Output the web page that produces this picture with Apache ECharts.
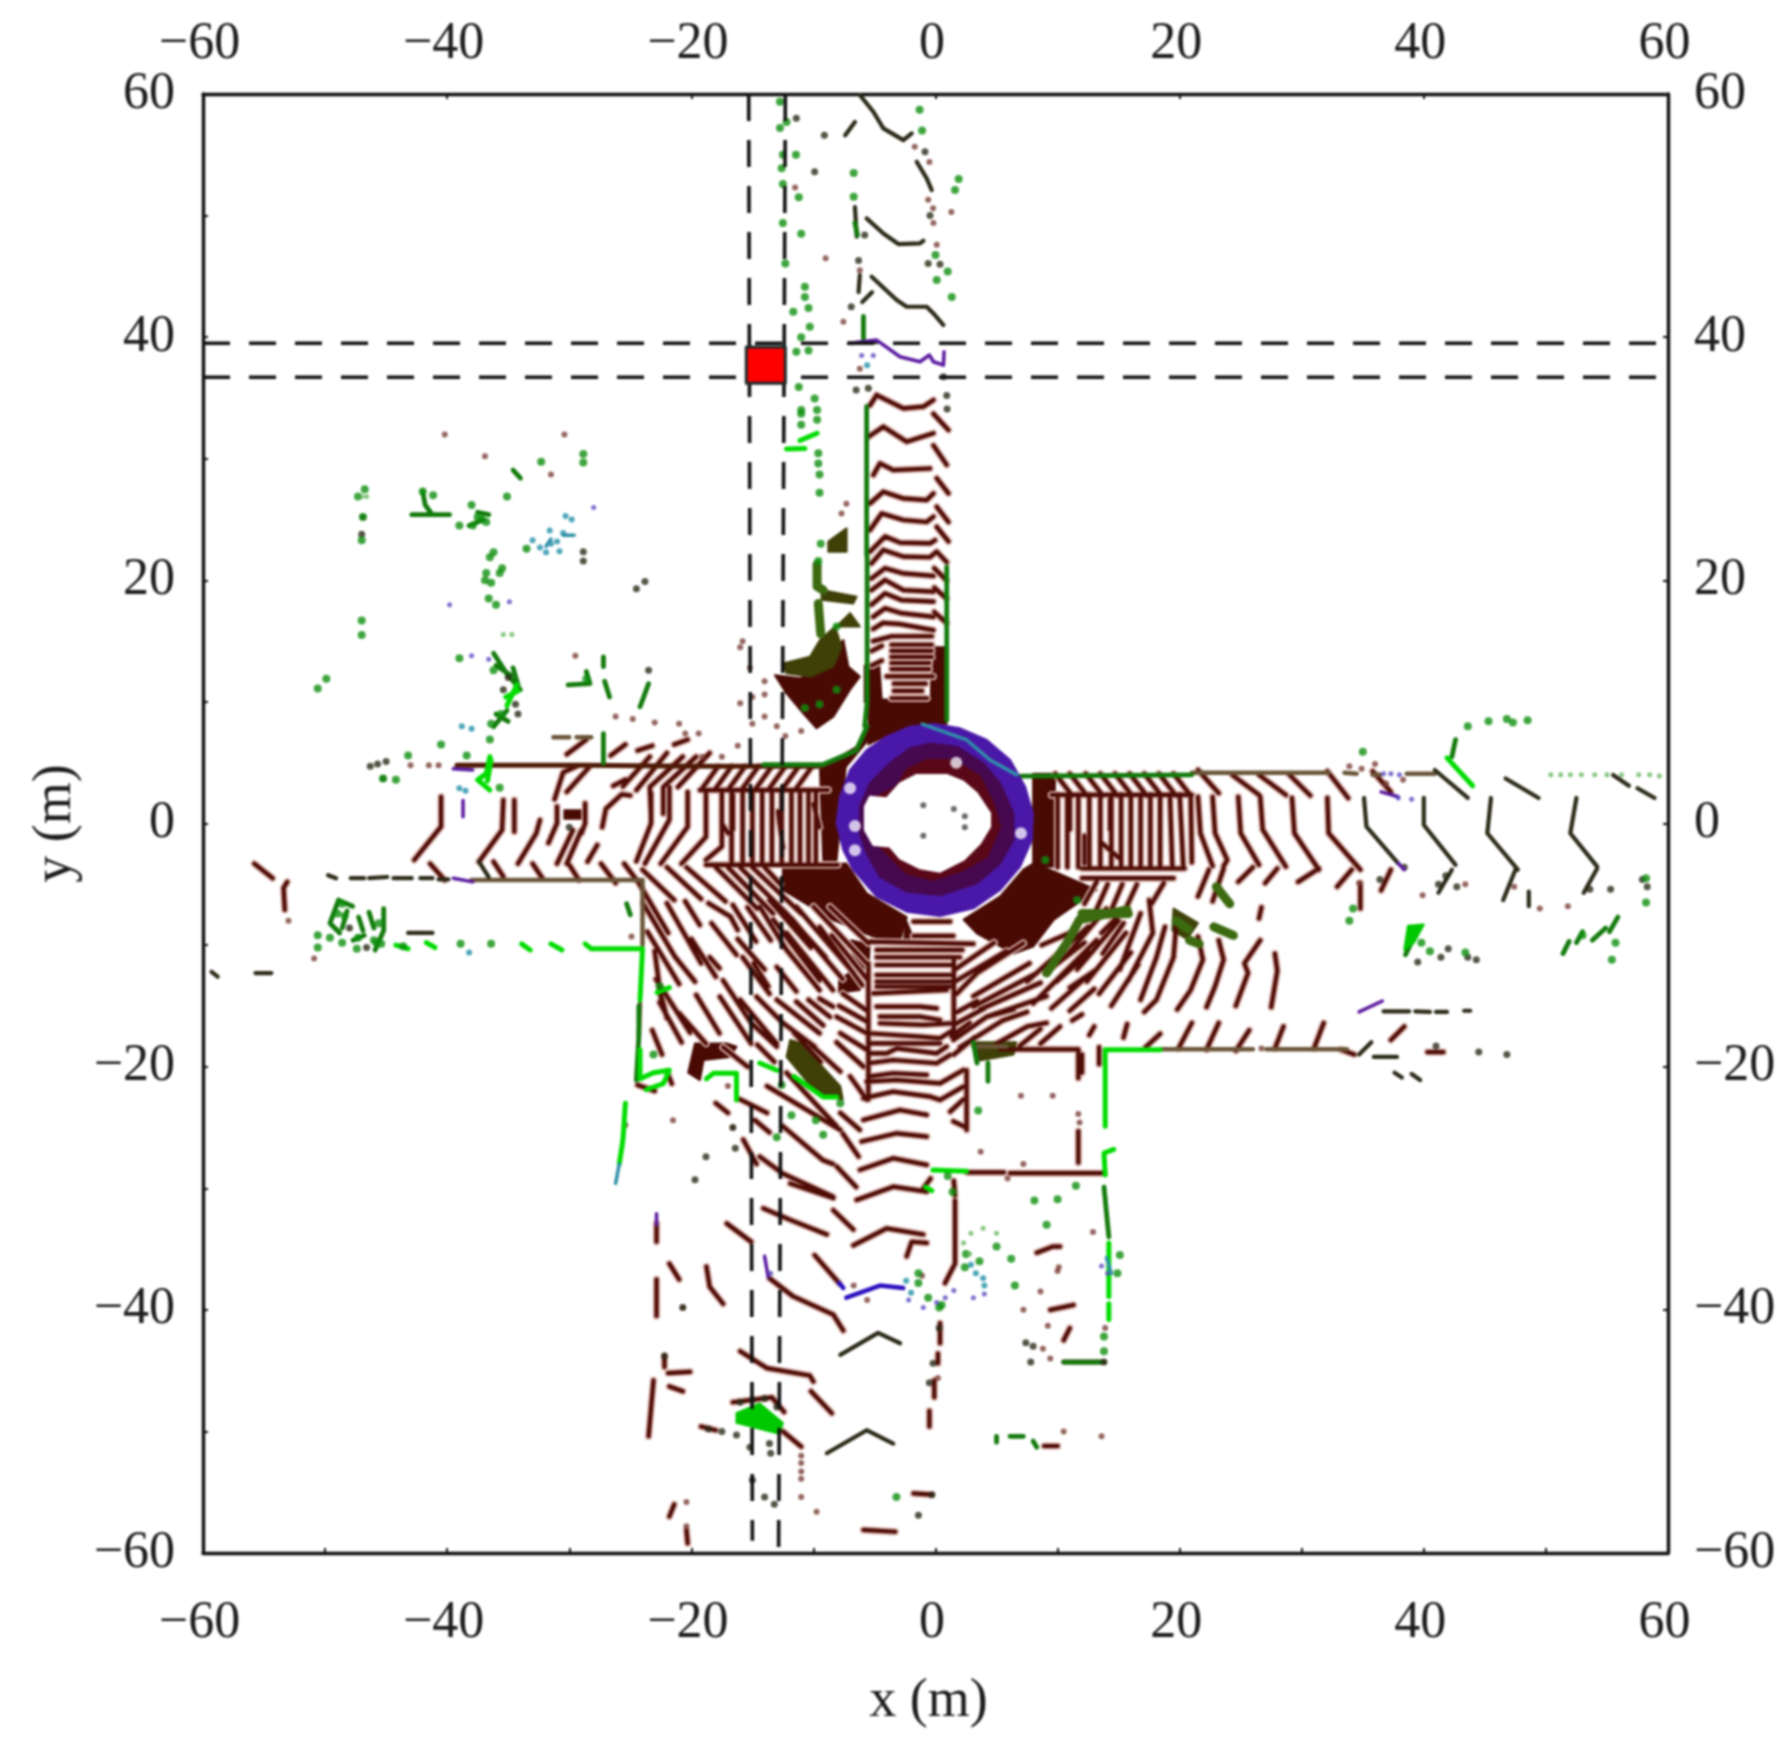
<!DOCTYPE html>
<html><head><meta charset="utf-8">
<style>html,body{margin:0;padding:0;background:#fff}#c{width:1784px;height:1752px;filter:blur(.8px)}</style>
<script src="https://cdn.jsdelivr.net/npm/echarts@6/dist/echarts.min.js"></script>
</head><body><div id="c"></div>
<script>
const xTicks=[-60,-40,-20,0,20,40,60];
const xLabel='x (m)', yLabel='y (m)';

// Scan lines, walls and clutter: flat x,y,x,y lists in metres.
const brownLines=[
// top arm
[-4.82,35.24,-2.63,34.14,-1,34.28,-.17,34.83],[-5.36,34.4,-4.82,35.24],[-.17,33.7,1.06,32.36],
[-5.5,31.8,-4.27,32.64,-2.36,31.4,-.17,32.1],[-.17,31.1,.92,29.5],
[-5.09,28.66,-4.55,29.62,-3.45,29.07,-.45,29.2],[.1,28.4,1.06,27.15],
[-5.36,26.33,-4.27,27.29,-2.63,26.74,-.72,26.6,-.17,27.15],[.1,26.06,1.06,24.8],
[-5.36,24.14,-4.41,25.5,-2.63,24.96,-.72,24.8,-.17,25.24],[.1,24.4,1.06,23.2],
[-5.36,22.36,-4.13,23.6,-2.9,23.1,-.45,23.04,-.04,23.3],
[-5.23,21.4,-4.27,22.5,-2.63,21.95,-.45,21.9,.1,22.36,.92,21.5],
[-5.23,20.16,-4.13,21,-2.63,20.57,-.17,20.36],[-5.23,19.2,-4.13,20.03,-2.63,19.2,-.17,19.07],
[-5.23,18,-4.13,18.93,-2.8,18.38,-.17,18.25],[-5.1,17,-4.13,17.7,-2.8,17.3,-.17,17],
[-5.1,16,-4.3,16.5,-2.9,16.4,-.17,15.9],[-5.1,15,-3.6,15.4,-.3,15.4],[-3.6,14.7,-.3,14.7],[-3.6,14.2,-.3,14.2],
[-3.6,13.7,-.3,13.7],[-3.6,13.2,-.5,13.2],[-3.6,12.7,-.5,12.7],[-4,12.1,-.2,12.1],[-3.4,11.5,-.8,11.5],[-3.4,10.9,-1.1,10.9],[-3.6,10.3,-.7,10.3],[-5.2,14.2,-4.4,14.6],[-5.2,13,-4.4,13.4],
[.9,20,-.1,21],[.9,18.5,-.1,19.4],[.9,16.5,-.1,17.4],
// bottom arm
[-1.8,-8.07,1.2,-8.07],[-1.8,-9.25,1.46,-9.25],[-5.37,-9.72,3.1,-9.9],[-4.82,-10.4,2.2,-10.4],[-4.82,-11.64,1.46,-11.64],[-4.82,-12.46,1.46,-12.46],[-4.82,-13,1.46,-13],[-4.82,-13.42,1.2,-13.42],[-4.82,-11,2,-11],
[-5.09,-13.97,.92,-13.69],[-4.82,-15.06,-1.27,-15.06,.1,-15.2],[-4.55,-15.88,-1.27,-15.88,.37,-16.16],[-4.55,-16.43,-1,-16.57,1.46,-16.43],
[-5.5,-17.25,-1.27,-17.53,.37,-17.67,1.46,-16.98],[-5.5,-18.08,.37,-18.08],[-5.5,-18.9,-4,-18.9,-3.18,-18.49,.1,-18.9,.92,-18.35],
[-5.5,-19.72,-3.46,-19.45,.1,-19.72,1.19,-19.04],[-5.5,-20.82,-3.46,-20.54,-.72,-20.68],[-5.64,-21.23,-3.18,-21.09,.37,-21.37,2.28,-20.27],
[-5.91,-22.6,-3.46,-22.05,-.45,-22.46,.37,-22.74,2.28,-21.64],[-5.91,-24.38,-2.91,-23.56,-.72,-23.97],[-6.05,-26.16,-3.18,-25.48,-.72,-25.75],
[-6.19,-28.49,-3.46,-27.53,-.72,-28.08],[-6.46,-30.96,-3.46,-29.87,-.72,-30.28],[1.2,-23.7,2.28,-22.7],[1.46,-24.5,2.5,-25],[2.55,-20.3,2.55,-25.2],
[-5.5,-11.5,-5.5,-22.7],[1.5,-11,1.5,-17],[1.3,-17.5,2.8,-16.4],[1.5,-19,3.2,-17.6],
// lower-left diagonals
[-23.95,-6.56,-21.35,-10.95,-19.7,-13],[-22,-6.56,-19.2,-11.5],[-20.5,-6.4,-19.3,-8.35],[-18.6,-6.56,-16.8,-7.66,-16.2,-8.76],[-18.35,-8.2,-16.3,-10.8],[-18.5,-11,-17.7,-11.9],
[-19.6,-14.1,-17.7,-17.25],[-21,-15.6,-18.8,-18.1],[-17.4,-12.9,-15.1,-16.4,-13,-18.35],[-17.66,-14.25,-15.1,-18.1],[-16,-14.5,-13,-18.1],[-14.66,-14.25,-12.5,-16.4,-9.9,-18.35],
[-13,-14.5,-9.5,-17.25],[-11.4,-14.65,-9.2,-16.6],[-10.4,-14.5,-8.65,-15.9],[-9.5,-14.4,-8.4,-15.06],[-14.9,-11.5,-13.7,-13.4],[-14.4,-6.84,-12.2,-10.4,-9.5,-13.7],
[-13.3,-7.9,-9.5,-12.9],[-12.2,-9,-8.4,-13.7],[-11.4,-6.84,-6.7,-12.3],[-10,-6.84,-5.64,-11.5],[-8.65,-6.84,-5.5,-9.85],[-15.4,-6.9,-13.5,-9.6],[-16.6,-6.7,-14.7,-9.7],
[-8.1,-15.9,-5.64,-17.25],[-7.8,-17.25,-5.64,-18.6],[-8.1,-18,-5.9,-20],[-7,-20.8,-5.64,-22.7],[-7.8,-23.8,-6.2,-25.2],[-16,-22.7,-13.8,-23.8],
[-12.5,-24.9,-9.2,-27.7,-8.4,-28],[-14.4,-27.4,-12.5,-28.8,-8.4,-30.7],[-8.1,-28.2,-6.5,-29.9],[-12.2,-20.5,-8.1,-24.9],[-13.8,-21.6,-7.8,-25.2],[-7.6,-25.5,-6.3,-27.4],[-15.75,-26,-14.66,-28],
[-24.3,-4.9,-21.9,-9],[-23.6,-8.9,-21,-13.2],[-22.9,-12.8,-20.1,-17.2],[-22.6,-14.7,-20.8,-18],
[-18,-3.6,-14.6,-7],[-17,-3.6,-13.3,-7.4],[-16,-3.6,-12,-7.6],[-15,-3.6,-11,-7.4],[-14,-3.6,-12.7,-5],[-20.4,-3.6,-17.2,-6.4],[-22,-3.6,-19.2,-6.2],[-24,-3.8,-21.4,-6.3],
[-13.6,-6.3,-10.2,-10.2],[-12.6,-7,-9,-11],[-11.8,-7.8,-7.6,-12.8],[-9.5,-8.5,-6,-13.3],[-8.5,-9.2,-5.6,-12.8],[-15.8,-11,-13.6,-14],[-13,-11.8,-11.4,-13.8],[-20,-9.5,-18,-12.6],[-16.2,-9.5,-14,-12],
[-7.6,-14,-5.6,-15.4],[-7.9,-15,-5.6,-16.3],[-17.4,-18.4,-15.4,-20],[-14.6,-18.2,-13.2,-19.6],[-11.6,-17.2,-9.4,-19.6],[-10.2,-18.2,-7.8,-20.4],[-18,-23,-17,-23.8],[-14.8,-24.4,-13.6,-25.4],
// left arm
[-40.5,2.2,-40.5,-.26,-42.7,-3],[-53.1,-4.8,-53.4,-5.3,-53.3,-7.1],[-35.4,1.93,-35.5,-.54,-37.4,-3.14],[-34.5,1.93,-34.5,-.67],[-32.4,.29,-32.7,-.8,-34.2,-3.3],[-31,1.4,-31,.03,-31.7,-1.6],
[-29.7,-.54,-31,-3.3],[-29,-.54,-30.2,-3.3],[-28.7,1.66,-28.7,.01,-29,-.8],[-27.7,-1.77,-28.5,-3.14],[-41.4,-3.3,-40.2,-4.65],[-36.2,-3.14,-35.4,-4.37],[-33,-3.3,-32.2,-4.5],[-30,-3.4,-29.2,-4.65],[-27.4,-3.3,-26.2,-4.9],[-25.5,-3.3,-24.3,-4.9],
[-23.3,2.5,-23.3,0,-24.5,-3.1],[-21.8,3,-21.8,.3,-23.8,-3.3],[-20.3,2.6,-20.3,-.26,-22.5,-3.3],[-18.8,2.6,-18.8,-1.1,-20.8,-3.3],[-17.5,2.5,-17.5,-1.9,-18.8,-3],
[-18.8,-3.4,-8,-3.4],[-16.7,2.6,-16.7,-3.2],[-15.8,2.6,-15.8,-3.2],[-15,2.6,-15,-3.2],[-14.2,2.6,-14.2,-3.2],[-13.4,2.6,-13.4,-3.2],[-12.6,2.6,-12.6,-3.2],[-11.8,2.6,-11.8,-3.2],[-11.1,2.6,-11.1,-3.2],[-10.4,2.6,-10.4,-3.2],[-9.8,2.6,-9.8,-3.2],
[-19.3,2.75,-8.8,2.75],[-19.2,2.75,-17.8,4.7],[-18.1,2.75,-16.7,4.7],[-17,2.75,-15.6,4.7],[-15.9,2.75,-14.5,4.7],[-14.8,2.75,-13.4,4.7],[-13.7,2.75,-12.3,4.7],[-12.6,2.75,-11.2,4.7],[-11.5,2.75,-10.1,4.7],
[-25.6,3.05,-23.4,5.5],[-24.5,2.75,-22,5.8],[-23.3,.8,-23.4,3,-20.7,5.5],[-22.3,.8,-22.3,3,-19.6,5.5],[-21.1,3,-18.5,5.8],[-31.2,2,-30.5,4.2,-29.4,4.7],[-30.2,2.6,-28.4,4.6],
[-27.3,-.3,-27,1.2,-25.7,2.4,-25,2.3],[-26.4,3.1,-25.4,3.6],[-26.6,5.6,-25.4,6.5],[-24.4,6,-23.2,6.4],[-21.4,6.5,-20.3,6.9],[-30.2,5.7,-28.6,6.9],
[-16.6,2.4,-16.6,-.5],[-12.9,1,-12.5,-2],[-10,1.6,-9.5,-.3],[-17.5,0,-17,-.8],
// right arm
[21.5,2.2,21.7,-.8,22.7,-3.5],[22.7,2.2,22.9,-.8,23.9,-3,23.6,-3.5],[24.8,2.2,25,-.8,26.5,-3.4],[26.6,2.2,26.8,-.5,28.7,-3.55],[29.2,2.1,29.4,-.8,31.4,-3.8],[32.1,2.1,32.2,-.8,34.8,-3.8],
[21.5,4.4,23.2,2.5],[24.3,4,26.5,2.35],[26.5,4,28.7,2.35],[29,4,30.7,2.3],[32.1,4.3,33.8,2.1],[35.8,4.3,37.3,2.6],
[22.4,-3.8,21.5,-6],[28,-3.7,27,-4.9],[31.4,-3.7,29.7,-4.8],[34.1,-3.8,32.9,-5.2],[37.3,-3.8,36.5,-5.5],[34.8,-4.9,34.8,-7],
[10,2.4,10,-3.6],[10.8,2.4,10.8,-3.6],[11.7,2.4,11.7,-3.6],[12.6,2.4,12.6,-3.6],[13.5,2.4,13.5,-3.6],[14.4,2.4,14.4,-3.6],[15.2,2.4,15.2,-3.6],[16,2.4,16,-3.6],[16.8,2.4,16.8,-3.6],[17.6,2.4,17.6,-3.6],[18.4,2.4,18.4,-3.6],[19.2,2.4,19.4,-3.6],[20,2.4,20.3,-3.6],[20.9,2.4,21,-3.2],
[9.5,2.35,21,2.35],[12,-3.7,20.4,-3.7],[12,-4.5,19.5,-4.5],[9.8,4.1,11.2,2.3],[11,4.1,12.4,2.3],[12.3,4.1,13.7,2.3],[13.5,4.1,14.9,2.3],[14.7,4.1,16.1,2.3],[15.9,4.1,17.3,2.3],[17.1,4.1,18.5,2.3],[18.3,4.1,19.7,2.3],[19.5,4.1,20.9,2.3],
[26.6,-9.6,25.3,-11.5,25.6,-12.3,24.6,-15],[23.2,-9.6,23.6,-11.2,22.9,-13.4,22.2,-15.1],[21.5,-9.3,21.9,-11.2,20.9,-13.7,19.8,-15.3],[19.7,-8.5,19.5,-11,18.1,-14.5,17.1,-15.5],[18.8,-8.5,18.1,-11,16.8,-14.5],[17.5,-6.3,17.8,-9,15.8,-12.9],[16.8,-7.4,15.1,-12],[15.4,-8.2,13.7,-10.7],[27.8,-10.7,28,-12.1,27.5,-15.1],[14.1,-5,13,-7.5],[15.3,-5,14.2,-7.6],[16.5,-5,15.4,-7.4],[18.7,-4.9,17.7,-6.6],
[23.6,-3.7,22.7,-6.4],[26,-3.6,24.8,-4.8],[26.7,-6.9,26.5,-7.8],[11,2,11,-.5],[12.2,-1,12.2,-3.3],[14.3,2,14.3,-.5],[13.5,-1.5,15,-2.8],
// lower-right diagonals
[1.74,-14,3.4,-12.3,7.2,-9.85],[3.1,-14.2,7.7,-11.5],[3.1,-15.06,8.3,-12.3],[3.65,-15.3,8.6,-13.1],[4.2,-15.9,9.1,-14.2],[1.46,-17.8,4.2,-15.9,6.4,-15.3],[2,-18.4,5.5,-16.2,7.5,-15.5],[5,-18.1,7.5,-16.7,9.1,-16.4],[8.6,-18.1,10.2,-16.7],[6.9,-18.3,8.6,-16.9],[11.2,-16.2,12,-15.7],[13,-16.7,12.6,-17.4],
[8.7,-10,11,-9],[9.6,-11.8,12.2,-9.8],[9.9,-13,12.6,-10.6],[11,-13.5,13.2,-12],[10.6,-11,14,-7],[11.6,-12,15,-8],[12.4,-13,15.6,-9],[13.4,-14,16,-10.6],[14.4,-15,16.6,-11.6],[7.5,-13,12.5,-8.5],[8,-14.8,13.2,-9.6],[9.5,-15.2,12.5,-12.5],[11,-15.4,13,-13.6],[1.6,-12,4.8,-9.8],[1.6,-13,5.8,-10.5],[1.8,-15.5,3.4,-14.6],[1.6,-16.5,4,-15.2],[13.2,-4.8,12.2,-6.6],[14.8,-7.8,13.6,-9],
[21,-16.4,19.9,-18.5],[23.2,-16.4,22.2,-18.6],[25.7,-17,24.6,-18.7],[28.5,-16.7,27.8,-18.5],[31.8,-16.4,31,-18.5],[15.7,-16.5,15.4,-17.6],[18.4,-17.3,17.2,-18.4],
[5.29,-18.57,11.7,-18.57,11.7,-20.95],[11.7,-25.3,11.7,-27.9],[12,-19,12,-20.5],[13.4,-18.4,13.4,-19.8],[6.1,-28.76,13.8,-28.76],[2.6,-28.7,5.6,-28.7],[33.2,-18.6,34.3,-19],[40.3,-18.8,41.6,-18.8],[37.3,-17.8,38.4,-16.7],
// lower scan lines
[-11.9,-29.6,-8.37,-30.8],[-8.37,-31.8,-6.73,-33.4],[-14.1,-31.65,-11.9,-32.6,-8.9,-33.8],[-17.1,-32.9,-15.1,-34.4],[-6.73,-34.7,-4,-33.3,-1,-33.8],[-2.36,-35.6,-1.95,-34.4,-.72,-34.5],[-9.9,-35.5,-7.9,-37.8],
[-13.6,-37.4,-11.65,-38.9,-8.37,-40.4,-7.55,-41.7],[-18.76,-36.45,-18.5,-38.1,-17.4,-39.5],[-22.85,-32.9,-22.85,-34.4],[-22.85,-37.5,-22.85,-40.5],[-21.8,-36.2,-21,-37.5],[1.6,-31,1.6,-36.2,.78,-37.8],
[.37,-41.1,.37,-42.75],[.2,-43.6,.2,-44.4],[-.1,-45.8,-.1,-47.2],[-.5,-48.3,-.5,-49.6],[-23.1,-45.8,-23.5,-50.4],[-21.9,-45.2,-20.1,-45.1],[-21.8,-46.3,-20.7,-46.7],[-22.2,-43.8,-22.2,-44.7],
[-16,-43.4,-13.8,-44.8,-10.3,-45.4,-10,-45.9],[-10.2,-46.7,-8.5,-48.5],[-12.5,-50,-11,-51.25],[-21.8,-57,-21.4,-56],[-20.4,-58.1,-20.3,-59.2],[-5.9,-58.1,-3.3,-58.25],[-19.2,-49.6,-18,-49.9],
[-23,-10.5,-22.4,-15],[-22.5,-14,-22,-16],[-23.2,-17,-22.4,-19],[-24.4,-21.5,-23,-22],[-22,-20.4,-21.6,-21.4],[-16.6,-47.6,-13.4,-47.2,-12.4,-48.4],[-1,-30,-.4,-29.2],[1.5,-29.4,1.6,-30.6],
[8.3,-35.3,9.6,-34.8,10.2,-34.8],[9.4,-40,11.3,-39.6],[10.5,-42.5,11,-41.5],[-1.8,-55.1,-.3,-55.2],[8.9,-51.2,10,-51.2],[-55.8,-3.3,-54.3,-4.5]
];
const darkLines=[
[-6.18,59.9,-5.09,58.54,-4.27,57.17,-2.63,56.21,-1.95,56.76],[-1.54,54.43,-.72,53.06,-.31,52.1],[-5.64,49.77,-4.27,48.53,-3.04,47.66,-1.27,47.71,-.99,47.93],
[-5.23,44.97,-3.18,43.05,-2.36,42.5,-.72,42.5,-.17,41.95,.65,41],[-7.4,56.6,-6.6,57.7],[-6.6,50.7,-6.45,48.26],[-6.2,45.1,-6.3,43.7],[-6,42.9,-5.2,43.7],[-7,39.5,-4.82,39.6],
[35.1,2.1,35.3,-.26,37.9,-3.27],[40,2.1,40,-.12,42.6,-3.4],[45.5,2.1,45.2,-.8,47.7,-3.8],[52.5,2.1,52,-.8,54.2,-3.55],[40.9,4.4,43.6,2.1],[46.7,3.7,49.4,2.1],[55.5,3.99,56.8,3.1],[57.5,2.9,58.9,2.1],
[42.3,-3.8,41.2,-5.7],[47.5,-3.8,46.5,-6.3],[54.2,-3.7,53.1,-5.7],[48.6,-5.6,48.6,-6.8],[35.9,-19.2,37.8,-19.2],[34.7,-19,35.7,-18],
[-7.8,-43.7,-4.7,-41.9,-2.9,-42.75],[-8.9,-51.8,-5.64,-49.9,-3.46,-51],[-42.2,-4.5,-41.2,-4.5],[-40.7,-4.6,-39.9,-4.6],[-47.9,-4.5,-46.8,-4.5],[-46.4,-4.5,-44.9,-4.4],[-44.4,-4.5,-42.9,-4.5],[-49.75,-4.25,-49.1,-4.5],
[-59.3,-12.2,-58.8,-12.6],[-55.7,-12.3,-54.4,-12.3],[-43.2,-9,-41.2,-9],[-37.4,-3.14,-36.6,-4.4],[37.6,-20.5,38.2,-20.9],[39,-20.6,39.7,-21.1],[36.7,-15.45,38.8,-15.45],[39.3,-15.45,40.5,-15.5],[41,-15.5,41.9,-15.5],[43.3,-15.4,43.8,-15.4]
];
const oliveLines=[
[-38,-4.65,-24,-4.65,-24,-10],[-24.2,-14.8,-24.3,-17.5],[18.4,-18.57,26,-18.57],[27.1,-18.57,33.7,-18.57],[21,4.18,32.2,4.18],[33.5,4.18,34.5,4.1],[35.8,4,36.4,4],[38.6,4.1,40.9,4.1],[-31.3,7.1,-30,7.1],[-29.4,7.1,-28.2,7.1],[5.8,-18.35,3.1,-18.35]
];
const wallLines=[[-39.2,4.8,-28.6,4.8],[-28.6,4.8,-20,4.7],[-20,4.7,-9.2,4.7],[10.5,-44.3,13.8,-44.3]];
const darkGreenLines=[
[-14.1,4.85,-9.2,4.85,-6.5,6,-5.6,8],[7,3.9,21,4],[-5.64,34.3,-5.64,22],[-5.6,22,-5.6,10,-5.8,8],[.92,21.1,.92,8.5],[-27.2,7.4,-27.2,4.95],[-30.1,11.4,-28.3,11.5,-28.6,12.5],[-27.2,13.7,-27.2,12.9],[-27.1,11.7,-26.7,10.4],[-23.5,11.5,-24.2,9.6],[-6.6,49.4,-6.4,48.4],[-5.9,41.7,-5.9,39.9],
[39.6,-8.5,38.5,-10.8],[51.4,-10.7,51.9,-9.7],[52.5,-9.8,53,-8.9],[53.8,-9.6,54.9,-8.6],[55.2,-8.9,55.9,-7.7],[-42.9,25.4,-39.8,25.4],[-42,27.3,-41.8,26.2,-41.3,25.5],[-34.6,29.07,-34,28.4],
[-36.2,14,-35.1,12.3,-34,11],[-34.6,12.8,-34.2,11.4],[-36,13,-34.8,12.2],[-35.1,9.3,-36.2,7.96],[-36,9,-35,8.4],[-48.9,-6.3,-49.6,-8.2,-48.8,-9],[-48.9,-6.3,-47.75,-6.8],[-45.2,-7,-45.2,-8.8,-45.9,-10.4],[-47.25,-7.7,-46.9,-8.8],[-25.3,-6.6,-25,-7.5],
[-48.2,-7.2,-48.6,-8.6],[-46.4,-7.3,-46,-8.6],[-47.7,-9.6,-46.8,-9.2],
[-24.3,-15,-24.3,-17.5,-24.5,-21.1],[5,-50.4,5,-50.9],[6.1,-50.4,7.2,-50.4],[8,-50.8,8.3,-51.3],[3.1,-18,3.4,-19.7],[4.3,-19.7,4.3,-21.2],[42.3,5.5,42.6,6.9],
[13.8,-29.9,14.2,-34],[10.5,-44.3,13.8,-44.3],[-37.5,25.6,-36.6,25.4],[-38.2,24.5,-37,25]
];
const brightGreenLines=[
[-28.7,-9.9,-28.2,-10.3,-24,-10.3,-24.2,-14.5],[-18.76,-21,-18.2,-20.55,-16.3,-20.55,-16.3,-22.74],[13.9,-24.9,13.9,-18.6,18.4,-18.6],[13.9,-28.9,13.8,-27.1,14.6,-26.8],[14.2,-34.5,14.2,-38.9],[14.2,-39.5,14.2,-40.8],
[-44.2,-10,-43.2,-10.3],[-41.7,-9.8,-41,-10.2],[-33.9,-9.9,-33.2,-10.4],[-31.5,-9.9,-30.6,-10.4],[-24.2,-18.6,-24.2,-21,-23.1,-20.5,-21.8,-20.3,-22.3,-21.4,-23.7,-21.9],[-22.8,-13.9,-21.8,-13.5],
[-25.4,-23,-25.6,-26,-25.9,-28],[-36.5,5.5,-36.8,4.1,-37.5,3.6,-36.5,2.75],[-36.4,5.2,-36.7,3.5],[-34.3,11.4,-35.1,9.7],[-35.2,10.4,-34.2,10.9],[-14.4,-19.7,-13,-20.3],[-11.6,-20.8,-9.2,-22.5,-8.1,-22.5],[-.2,-28.5,2.55,-28.6],[-.8,-29.9,-.3,-30.2],
[41.9,5.4,44,3.1],[-12.2,30.8,-10.7,30.85],[-11.1,31.5,-9.7,32.1],[-14.6,-48.6,-13,-49.4]
];
const purpleLines=[[-7,39.5,-4.82,39.76,-2.91,38.39,-1.27,37.98,-.5,38.53,-.17,37.98,.65,37.7,.7,38.8],[-38.7,1.9,-38.7,.56],[-39.5,4.5,-37.9,4.4],[-39.5,-4.5,-37.9,-4.8],[-22.85,-32.1,-22.85,-33],[-14,-35.6,-13.7,-37.3],[34.7,-15.5,36.6,-14.6],[37.9,-3.27,38.4,-3.8],[36.5,2.6,37.9,2.2]];
const blueLines=[[-7.9,-37.8,-7.55,-38.2],[-7.3,-39,-4.55,-38,-2.64,-38.2]];
const tealLines=[[-1.08,8.18,2.56,6.87,4.47,5.22,6.66,4],[-31.9,22.8,-31.5,23.4],[-30.5,23.7,-29.6,23.7],[-26.2,-29.6,-25.9,-28],[14,-35.7,14.4,-37]];
const oliveGreenBands=[[9.1,-12.3,10.75,-9.85,11.8,-7.9,15.7,-7.1],[12,-7.4,15.8,-7.4],[-9.6,18.1,-9.4,15.6],[-9.7,21.3,-9.7,19.5,-9.2,19.2],[19.7,-8,20.7,-8.7],[22.8,-8.5,24.4,-9.2],[20.8,-9.6,21.6,-9.9],[23,-5.2,24.1,-6.6]];

// filled dense patches
const darkPatches=[
[8,4.1,9.8,4.1,9.66,-3.55,8,-3.55],
[8,-3.3,9.4,-3.82,13.2,-5.47,9.66,-7.94,8,-10.13,6.4,-10.7,3.38,-9.03,2.3,-7.9,5.3,-6,7.2,-3.8],
[-7.3,-3.3,-12.5,-3.55,-12.5,-5.47,-8.37,-7.94,-5.1,-9.3,-2.9,-9.6,-2.36,-7.7,-5.64,-5.74],
[-9.46,4.4,-7.3,5.2,-8.1,-3,-9.2,-3],
[-9.2,4.7,-6.46,6.3,-5.4,8,-5.4,10.2,-4,10.2,-4.5,8.2,-5.9,6.4,-7.8,4.1],
[-5.4,10.2,.37,10,.92,8.2,-2,8,-4.5,7,-5.5,6.5],
[-5.8,13,-4.6,13,-4.4,10,-5.8,10],[-.3,14.5,.85,14.5,.9,9,-.4,9.5],
[-13.15,12.2,-11.1,11.94,-9.46,12.63,-8.37,14,-7.55,15.09,-7.14,12.9,-6.2,12.08,-7,11,-8.37,8.79,-9.74,7.83,-10.83,9.06,-12.2,10.7],
[-20.26,-20.5,-19.7,-18.1,-17.1,-18.1,-16.3,-18.35,-16.85,-19.2,-19,-19.45,-19.3,-21.1],
[-6.9,-9.6,-5.4,-10,-5.5,-12.5,-6.6,-12.6],[-2.4,-8,-1.7,-9.7,-2.6,-9.7],[-7.9,-12.9,-6.5,-11.9,-6.2,-13.7,-7.9,-13.9],[-30.4,1.1,-29,1.1,-29,.4,-30.4,.4]
];
const oliveDarkPatches=[
[-12.47,13.17,-10.28,13.72,-9.46,15.09,-8.23,16.19,-7.69,14.54,-8.37,12.9,-10.28,12.08,-12.2,12.35],
[-8.78,23.18,-7.28,24.28,-7.28,22.36,-8.78,22.36],[-9.33,19.2,-6.46,18.66,-6.73,18.1,-9.33,18.4],[-7,17.3,-8.1,16.2,-6.2,16.2],
[-11.9,-17.8,-11,-18.1,-7.8,-21.6,-7.6,-22.7,-9.7,-22.2,-12.2,-19.2],[3.3,-18,6.6,-18,6.4,-19,3.6,-19.5],[19.5,-7,21.5,-8.2,20.6,-9.5,19.4,-8.8]
];
const greenPatches=[[-16.3,-48.5,-14.4,-47.7,-12.5,-49.3,-12.8,-50.2,-16.3,-49.3],[38.7,-8.4,40,-8.3,39.2,-9.8,38.4,-10.4]];
const ringOuter=[-.17,8.18,2.01,7.83,4.2,6.87,6.11,5.22,7.34,3.03,7.97,.84,7.89,-1.36,6.93,-3.55,5.29,-5.47,3.1,-6.98,.37,-7.61,-2.36,-7.25,-4.82,-6.02,-6.73,-3.82,-7.55,-2.18,-8.1,.01,-7.82,2.2,-7,4.4,-5.64,6.04,-4,7.14,-2.09,7.96];
const ringMiddle=[-.45,6.59,1.74,6.32,3.92,4.95,5.29,3.3,6.38,.84,6.38,-1.36,5.29,-3.28,3.38,-4.92,.37,-5.88,-2.36,-5.6,-4.55,-4.37,-5.64,-2.45,-6.19,-.81,-6.19,1.38,-5.37,3.3,-3.73,4.95,-2.09,6.18];
const ringInner=[-.72,5.22,1.47,5.22,3.65,3.85,4.74,1.66,5.29,-.26,4.2,-2.73,2.28,-3.82,-.17,-4.65,-2.36,-4.1,-3.73,-2.73,-5.09,-1.36,-5.37,1.93,-3.18,3.03,-2.36,4.4];
const ringHole=[-5.37,2.21,-4,2.07,-2.91,3.3,-1.54,3.99,.92,3.99,2.28,3.44,3.38,2.48,4.47,.84,4.47,-.26,3.65,-1.63,2.28,-3,.37,-3.96,-1.27,-3.69,-2.91,-2.86,-3.73,-1.9,-5.09,-1.77,-5.78,-.53,-5.78,1.38];
const ringGapSpots=[1.7,5,-7,2.9,-6.6,-2.2,-6.6,-.2,7,-.8];

const greenPts=[-12.74,59.36,-12.2,57.7,-12.74,57.2,-11.43,55,-12.5,55,-12.6,53.9,-12.5,52.6,-12.5,49.4,-12.3,46.06,-11,48.5,-11.2,51.5,-10.7,44.15,-10.7,43.3,-11.65,42.1,-10.4,42.4,-10.3,40.86,-11,40,-11.4,38.8,-10.4,38.9,-11.2,35.9,-9.9,34.96,-11,34,-9.7,34,-6.7,53.5,-6.7,51.55,-1.3,58.7,-1.1,57,0,46.75,.1,44.7,1,45.4,1.33,43.3,1.9,53,1.6,52.1,-11,33.7,-9.7,33.2,-11,32.8,-9.6,30.45,-9.6,29.6,-9.5,28.7,-9.5,27.2,-9.4,23,-9.6,21.6,-8.1,16.2,-8.1,11,-9.5,9.8,-10.7,9.5,
-46.9,25.2,-47,23.3,-46.75,27.5,-47.3,26.9,-47,16.7,-47,15.5,-49.9,11.9,-50.6,11.1,-42,27.3,-41.15,27,-38,26.2,-37.5,25.2,-37.9,24.5,-39,24.5,-35.1,26.9,-32.3,29.75,-28.85,30.4,-28.85,29.7,-33.5,22.6,-36.5,21.9,-36.9,20,-35.7,20.6,-36.6,18.5,-36,18,-39,13.6,-36.5,6.9,-40.5,6.5,-43.2,5.6,-38.4,5.6,-45.25,3.7,-44.2,3.6,-35.7,2.95,-36.2,12.6,-35.6,9,-36.4,8.2,-28.6,11.9,-36.2,22.3,-36.8,20.6,-36.4,19.8,-35.5,21,-37.2,25,-36.8,24.8,
-45.6,-8.2,-48.4,-7.6,-47.3,-9.4,-46,-9.6,-50.6,-9.2,-50.6,-10.2,-49.6,-9.4,-48.6,-9.8,-47.4,-10.3,-43.6,-10.1,-38.9,-9.9,-36.4,-9.9,-22.6,-13.4,-23.1,-19,-7.8,-23,-12.6,-21.5,-9.8,-24.4,-11.8,-24,-13,-25.8,-9.2,-25.6,-45.8,-9.8,-45.4,-9.9,-49,-7.4,-48.6,-6.6,
33.9,-8,34.2,-7,35,5.9,43.6,8,45.3,8.4,46.8,8.6,47.3,8.3,48.5,8.5,40.5,-10.5,43.4,-10.6,39.8,-9.8,53,-9.2,55.7,-9.8,55.4,-11.2,58.2,-4.5,58.2,-6.5,9,-3,11.6,-6.3,
3.5,-23.6,1.4,-30.3,1,-29,8.1,-31,10,-30.9,9.1,-33,11.5,-29.8,14.9,-37,15.1,-35.5,-3.2,-55.4,-1.4,-37,-.6,-39,-1.4,-37.8,.5,-39.6,5,-34.8,6.2,-35.8,3.6,-36,2.5,-35.4,2.4,-36.5,6.5,-38,.3,-39.8,13.8,-42.2,13.8,-43.4
];
const lightGreenPts=[50.4,4,51.2,4,52,4,52.9,4,54,4,55,4,56.2,4,57.6,4,58.5,4,59.3,3.9,-35.4,15.55,-34.7,15.55,2.9,-33.7,3.9,-33.3,5,-33.7,2.3,-34.5,2.8,-35.4,-47,26.9,-46.6,26.9];
const darkPts=[-11.4,58,-9.1,56.6,-9.9,53.6,-5.8,48.4,-6.3,46.3,-6.9,42.5,.65,36.75,-5.5,35.8,-6.5,35.65,-.6,46.06,.37,46,-.45,50,-.86,55.25,.92,35.2,.95,34.1,-28.85,22.35,-28.85,21.6,-24.5,19.3,-23.8,19.9,-45.25,3.7,-23.5,12.6,-47,23.8,-46.9,25.2,
-46.3,4.7,-45,5.1,-45.7,4.9,-30,-.3,-.2,-44.4,.3,-41.5,-.5,-46,8,-43,7.4,-42.7,7.8,-44.3,-.3,-55.2,-1.4,-56.9,-16.4,-26.7,-18.8,-27.4,-19.7,-29.3,-16.6,-25,-20.7,-39.8,-15,-54,-14,-55.4,-13.2,-56,-22.2,-43.8,-18.6,-49.8,-17.5,-50,-15.2,-51.3,-13.5,-51.8,41.2,-5,42.7,-5.2,36.4,-4.6,41.8,-4.3,38.4,-3.6,53.6,-5.4,55.3,-5.4,57.9,-4.6,58.3,-5.2,43.6,-11,44.3,-11.2,41.4,-11,42,-10.3,13.8,-44.3,41,-18.3,44.5,-18.8,46.8,-19,39.5,-11.4,
-16,-47.6,-15,-47.4,-14,-47.3,-13,-48,-16.3,-50.3,-13.6,-51,-35,12,-34.4,9.8,-34.2,9,-35.4,11,-48,-8.6,-46.6,-10.2
];
const brownPts=[-40.2,32,-36.9,30.2,-30.4,32,-31.5,28.7,-11.5,52.3,-9,46.5,-7.55,41.27,-1.7,55.66,-.5,54.4,-.6,51.3,1.3,50.3,-.2,50.6,-.17,49.4,.1,47.6,-6.2,37.4,-6.2,45.5,-7.7,25.5,-7.3,26.3,-15.8,15,-16,14.5,-15.2,12.8,-14,11.7,-14,10.6,-15,10.4,-16,9.9,-15,8.2,-14,8.8,-13,8,-12.3,7.2,-11,7.6,-16.2,6.4,-17.5,5.5,-19.1,5.5,-29.5,13.8,-26.2,8.8,-24.8,8.6,-23,8.3,-21,8.2,-20.5,7.4,-19.4,7.4,
-43,4.8,-41.5,4.8,-40.7,4.8,-50.9,-11.1,-53,-8,-24.9,-9.3,-17,-21.6,-21.5,-24.4,-25.4,-24.8,-16.6,-25,-6.7,-38,-5.6,-39.2,3.7,-27,-9.74,-56.6,-11,-52,-11,-52.6,-11,-53.3,-11,-53.9,-11,-55.4,-1.1,-37.2,-20.7,-39.8,-20.4,-55.8,-20.4,-57.8,
10,-36.8,.2,-45.6,7.2,-28,5.9,-29.2,8.6,-38.5,9.4,-44,8.8,-43.2,9.2,-41.3,7.2,-40,13.9,-41.5,13.6,-50.4,10.5,-50,39.9,-5.9,47.4,-5.2,43.4,-5,34.7,-4.9,36.9,3.3,38.3,3.6,33.9,4.7,34.9,4.5,36,4.9,49.5,-7,51.8,-6.8,26.7,-18.5,10.1,-36.5,12.9,-33.6,9.6,-22.4,11.8,-24.6,11.7,-23.9,7,-22.4
];
const purplePts=[-6.05,38.5,-5.1,38.5,-28,26,-39.8,18,-38,13.8,-36.6,13.5,36.7,4.1,37.3,4.1,38,4,37.9,2.1,39,2,-34.9,18.24,-13.5,-37,-2.2,-39.2,-1,-39.8,.1,-39.4,.8,-39,1.5,-38.4,14.1,-37,13.6,-36.4,3.1,-39,4,-38.7];
const tealPts=[-31.9,22.3,-32.4,22.7,-31.5,23,-31,23.2,-30.8,22.4,-30.5,23.9,-29.8,25,-30.3,25.3,-31.6,24.1,-33,23.3,-5.6,37.7,-38.8,8,-38,7.8,-39,2.9,-38.5,2.7,2.9,-36.3,3.3,-37,4,-38,3.9,-37.4,-38.2,-10.6,-2.4,-37.6,-2,-38.6];
const vehicleDots=[-1,1.5,-1,-1,1.5,1.2,2.4,.6,2.4,-.3];
const vehicleBox=[-15.5,39.2,-12.3,36.2];
const guideHorizontal=[[-60,39.5,59.6,39.5],[-60,36.7,59.6,36.7]];
const guideVertical=[[-15.3,60,-15,-59],[-12.3,60,-12.85,-59.6]];

const toSegs=ls=>{const o=[];ls.forEach(l=>{for(let i=0;i<l.length;i+=2)o.push([l[i],l[i+1]]);o.push([null,null]);});return o;};
const toPts=a=>{const o=[];for(let i=0;i<a.length;i+=2)o.push([a[i],a[i+1]]);return o;};
const lineS=(ls,color,w,z,extra)=>({type:'line',data:toSegs(ls),symbol:'none',silent:true,connectNulls:false,animation:false,z:z,clip:true,
  lineStyle:Object.assign({color:color,width:w,cap:'round',join:'round'},extra||{})});
const ptS=(a,color,size,z)=>({type:'scatter',data:toPts(a),symbol:'circle',symbolSize:size,silent:true,animation:false,z:z,itemStyle:{color:color}});
const polyS=(list,fill,z,stroke)=>({type:'custom',silent:true,animation:false,z:z,clip:true,data:list.map((_,i)=>[i]),encode:{x:0},
  renderItem:(p,api)=>{const f=list[api.value(0)],pts=[];for(let i=0;i<f.length;i+=2)pts.push(api.coord([f[i],f[i+1]]));
   return{type:'polygon',shape:{points:pts},style:{fill:fill,stroke:stroke||fill,lineWidth:stroke?3:2,lineJoin:'round'}};}});

const fmt=v=>xTicks.includes(v)?String(v).replace('-','\u2212'):'';
const font='"Liberation Serif",serif', ink='#1c1c1c';
const axCommon=(pos,margin,major,pad)=>({type:'value',position:pos,min:-60,max:60,interval:major?20:10,
  axisLine:{show:true,onZero:false,lineStyle:{color:'#0c0c0c',width:3.4}},
  axisTick:{show:true,inside:true,length:5,lineStyle:{color:'#111',width:2}},splitLine:{show:false},
  axisLabel:{show:true,margin:margin,padding:pad,fontFamily:font,fontSize:52,color:ink,formatter:fmt,showMinLabel:true,showMaxLabel:true,hideOverlap:false}});

const chart=echarts.init(document.getElementById('c'),null,{renderer:'canvas'});
chart.setOption({
  animation:false,backgroundColor:'#fff',
  grid:{left:203,top:94,width:1465,height:1459,containLabel:false},
  xAxis:[Object.assign(axCommon('bottom',44,false,[0,7,0,0]),{name:xLabel,nameLocation:'middle',nameGap:122,nameTextStyle:{fontFamily:font,fontSize:54,color:ink,padding:[0,14,0,0]}}),axCommon('top',24,true,[0,7,0,0])],
  yAxis:[Object.assign(axCommon('left',28,false,[9,0,0,0]),{name:yLabel,nameLocation:'middle',nameGap:116,nameTextStyle:{fontFamily:font,fontSize:54,color:ink}}),axCommon('right',26,true,[9,0,0,0])],
  series:[
    polyS(darkPatches,'#4a0a04',3),
    polyS(oliveDarkPatches,'#3f3f08',4),
    lineS(brownLines,'#d9b4ae',7.5,3.5),
    lineS(brownLines,'#4f0c06',4.2,5),
    lineS(wallLines,'#4f1a06',5,5),
    lineS(oliveLines,'#6a5538',4.5,5),
    lineS(darkLines,'#2c2a18',4.2,5),
    lineS(oliveGreenBands,'#3c6a10',9,6),
    lineS(darkGreenLines,'#137a0c',4.8,6),
    lineS(brightGreenLines,'#00dc00',5,7),
    lineS(purpleLines,'#5a1aa0',3.5,7),
    lineS(blueLines,'#2a10c0',4.5,7),
    ptS(brownPts,'#7a4038',6,6),
    ptS(darkPts,'#2a2a18',7,6),
    ptS(greenPts,'#0e8e0e',8,7),
    ptS(lightGreenPts,'#68b860',5,7),
    ptS(purplePts,'#5a4ac0',5,7),
    ptS(tealPts,'#2090a8',6,7),
    polyS([ringOuter],'#4a18a8',8),
    polyS([ringMiddle],'#46084e',8.1),
    polyS([ringInner],'#5a0818',8.2),
    polyS([ringHole],'#ffffff',8.3),
    ptS(ringGapSpots,'#f4f0fa',12,8.4),
    ptS(vehicleDots,'#444',6,8.5),
    lineS(tealLines,'#2f90a8',3.5,8.6),
    polyS(greenPatches,'#00c800',8.6),
    lineS(guideHorizontal,'#111',3.4,9,{type:[27,19],cap:'butt'}),
    lineS(guideVertical,'#111',3.6,9,{type:[27,19],cap:'butt'}),
    polyS([[vehicleBox[0],vehicleBox[1],vehicleBox[2],vehicleBox[1],vehicleBox[2],vehicleBox[3],vehicleBox[0],vehicleBox[3]]],'#ff0000',10,'#1f2a2a')
  ]
});
</script></body></html>
